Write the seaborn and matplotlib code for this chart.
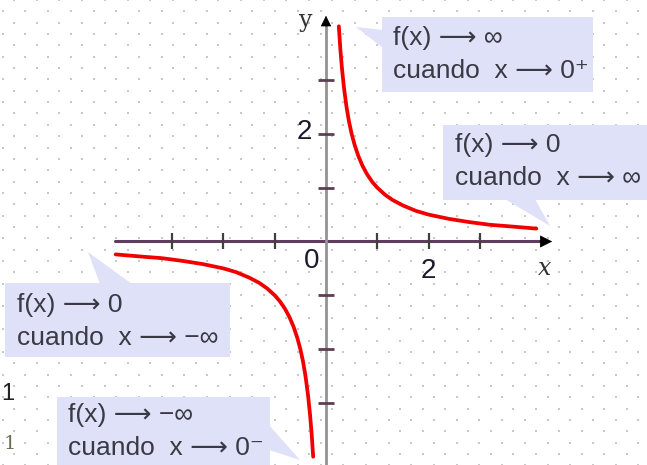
import numpy as np
import pandas as pd
import seaborn as sns
import matplotlib.pyplot as plt
from matplotlib.patches import Polygon, Rectangle

# ---- data ----
x_pos = [0.25, 0.28, 0.31, 0.35, 0.4, 0.45, 0.5, 0.56, 0.63, 0.71, 0.8, 0.9, 1.0,
         1.15, 1.3, 1.5, 1.75, 2.0, 2.4, 2.8, 3.2, 3.6, 4.1]
y_pos = [4.0, 3.57, 3.23, 2.86, 2.5, 2.22, 2.0, 1.79, 1.59, 1.41, 1.25, 1.11, 1.0,
         0.87, 0.77, 0.67, 0.57, 0.5, 0.42, 0.36, 0.31, 0.28, 0.24]
x_neg = [-4.1, -3.6, -3.2, -2.8, -2.4, -2.0, -1.75, -1.5, -1.3, -1.15, -1.0, -0.9,
         -0.8, -0.71, -0.63, -0.56, -0.5, -0.45, -0.4, -0.35, -0.31, -0.28, -0.25]
y_neg = [-0.24, -0.28, -0.31, -0.36, -0.42, -0.5, -0.57, -0.67, -0.77, -0.87, -1.0,
         -1.11, -1.25, -1.41, -1.59, -1.79, -2.0, -2.22, -2.5, -2.86, -3.23, -3.57, -4.0]
x_ticks = [-3, -2, -1, 1, 2, 3]
y_ticks = [-3, -2, -1, 1, 2, 3]
x_tick_labels = {2: "2"}
y_tick_labels = {2: "2"}
callout_f = ["f(x) \u27f6 \u221e", "f(x) \u27f6 0", "f(x) \u27f6 0", "f(x) \u27f6 \u2212\u221e"]
callout_c = ["cuando  x \u27f6 0\u207a", "cuando  x \u27f6 \u221e",
             "cuando  x \u27f6 \u2212\u221e", "cuando  x \u27f6 0\u207b"]

# ---- layout (pixels) ----
W, H = 647, 465
X0, Y0 = 326, 241.5
UX, UY = 51.3, 53.8

sns.set_style("white")
SANS = ["Liberation Sans", "DejaVu Sans"]
plt.rcParams["font.family"] = SANS

fig = plt.figure(figsize=(W / 100, H / 100), dpi=100)
bg = fig.add_axes([0, 0, 1, 1])
bg.set_xlim(0, W)
bg.set_ylim(H, 0)
bg.axis("off")

ax = fig.add_axes([0, 0, 1, 1])
ax.patch.set_alpha(0)
ax.axis("off")
ax.set_xlim(-X0 / UX, (W - X0) / UX)
ax.set_ylim((Y0 - H) / UY, Y0 / UY)

# dotted background (staggered)
dx, dy = 22.7, 11.35
pts = []
for k in range(int(H / dy) + 2):
    off = 14.0 if k % 2 == 0 else 2.7
    for xx in np.arange(off, W + 1, dx):
        pts.append((xx, k * dy))
pts = np.array(pts)
bg.scatter(pts[:, 0], pts[:, 1], s=3, marker="s", color="#c8c8c8", linewidths=0, zorder=1)

# callout boxes with pointers (pixel coords)
box_col = "#dfe1f8"
boxes = [(382, 17, 211, 75), (443, 125, 210, 75), (5, 283, 225, 74), (57, 397, 213, 70)]
pointers = [
    [(356, 27), (383, 30), (383, 48)],
    [(550, 226), (505, 199), (535, 199)],
    [(88, 252), (100, 284), (132, 284)],
    [(300, 460), (269, 425), (269, 450)],
]
for (bx, by, bw, bh), tri in zip(boxes, pointers):
    bg.add_patch(Rectangle((bx, by), bw, bh, facecolor=box_col, edgecolor="none", zorder=2))
    bg.add_patch(Polygon(tri, closed=True, facecolor=box_col, edgecolor="none", zorder=2))

text_pos = [(393, 38, 71), (455, 145, 178), (17, 305, 338), (68, 415, 448)]
for (tx, ty1, ty2), l1, l2 in zip(text_pos, callout_f, callout_c):
    bg.text(tx, ty1, l1, fontsize=19, color="#3a3a44", va="center", ha="left",
            family=SANS, zorder=3)
    bg.text(tx, ty2, l2, fontsize=19, color="#3a3a44", va="center", ha="left",
            family=SANS, zorder=3)

# stray glyphs at left edge
bg.text(1, 394, "1", fontsize=17, color="#222222", va="center", ha="left", zorder=3)
bg.text(4, 444, "1", fontsize=14, color="#6b6b55", va="center", ha="left",
        family=["DejaVu Serif"], zorder=3)

# axes lines
x_lo, x_hi = (115 - X0) / UX, (555 - X0) / UX
y_lo, y_hi = (Y0 - H) / UY, (Y0 - 13) / UY
ax.plot([x_lo, x_hi - 0.2], [0, 0], color="#5e3e5c", lw=2.2, zorder=4)
ax.plot([0, 0], [y_lo, y_hi - 0.2], color="#939393", lw=2.0, zorder=4)
ax.annotate("", xy=(x_hi, 0), xytext=(x_hi - 0.35, 0),
            arrowprops=dict(arrowstyle="-|>", color="black", lw=0.5, mutation_scale=20), zorder=5)
ax.annotate("", xy=(0, y_hi), xytext=(0, y_hi - 0.3),
            arrowprops=dict(arrowstyle="-|>", color="black", lw=0.5, mutation_scale=17), zorder=5)

# ticks
tlx = 8 / UY
tly = 8 / UX
ax.vlines(x_ticks, -tlx, tlx, color="#404040", lw=1.6, zorder=5)
ax.hlines(y_ticks, -tly, tly, color="#5e3e50", lw=2.0, zorder=5)
for v, s in x_tick_labels.items():
    ax.text(v, -30 / UY, s, fontsize=20, ha="center", va="center", color="#1a1a2a", zorder=5)
for v, s in y_tick_labels.items():
    ax.text(-22 / UX, v + 0.03, s, fontsize=20, ha="center", va="center", color="#1a1a2a", zorder=5)
ax.text(-14 / UX, -19 / UY, "0", fontsize=20, ha="center", va="center", color="#1a1a2a", zorder=5)
ax.text(-20 / UX, (Y0 - 21) / UY, "y", fontsize=17, ha="center", va="center",
        family=["DejaVu Serif"], color="#333333", zorder=5)
ax.text(219 / UX, -27 / UY, "x", fontsize=17, ha="center", va="center", style="italic",
        family=["DejaVu Serif"], color="#333333", zorder=5)

# curve
df_pos = pd.DataFrame({"x": x_pos, "y": y_pos})
df_neg = pd.DataFrame({"x": x_neg, "y": y_neg})
sns.lineplot(data=df_pos, x="x", y="y", ax=ax, color="#f00000", lw=2.7, sort=False,
             estimator=None, zorder=6)
sns.lineplot(data=df_neg, x="x", y="y", ax=ax, color="#f00000", lw=2.7, sort=False,
             estimator=None, zorder=6)
ax.axis("off")
ax.set_xlim(-X0 / UX, (W - X0) / UX)
ax.set_ylim((Y0 - H) / UY, Y0 / UY)

fig.savefig("out.png", dpi=100)
